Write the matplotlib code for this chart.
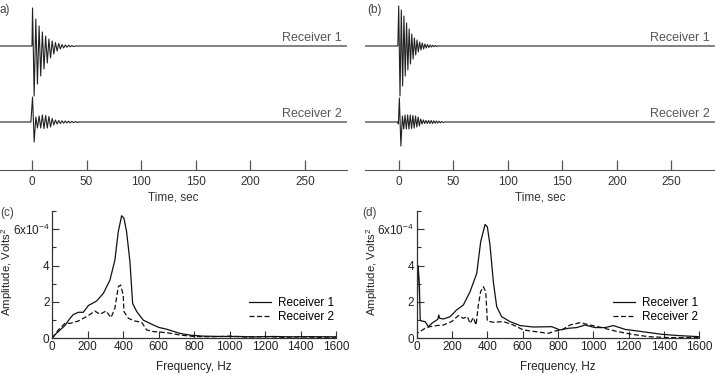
import matplotlib
matplotlib.use("Agg")
import matplotlib.pyplot as plt
import numpy as np

plt.rcParams['font.family'] = ['Liberation Sans', 'DejaVu Sans']
plt.rcParams['mathtext.fontset'] = 'custom'
plt.rcParams['mathtext.rm'] = 'Liberation Sans'
plt.rcParams['mathtext.it'] = 'Liberation Sans'

# ---- time traces (extremes, arbitrary units) ----
t_a1 = [-30, 0, 0.5, 2.0, 3.5, 5.0, 6.5, 8.0, 9.5, 11, 12.5, 14, 15.5, 17, 18.5, 20,
        21.5, 23, 24.5, 26, 27.5, 29, 30.5, 32, 33.5, 35, 36.5, 38, 40, 290]
y_a1 = [0, 0, 38, -50, 27, -38, 20, -30, 14, -23, 10, -17, 7, -12, 5, -8,
        3.5, -5, 2.5, -3, 1.5, -2, 1, -1.2, 0.8, -0.8, 0.5, -0.5, 0, 0]

t_a2 = [-30, -1, 0.5, 2.0, 3.5, 5, 6.5, 8, 9.5, 11, 12.5, 14, 15.5, 17, 18.5, 20,
        21.5, 23, 24.5, 26, 27.5, 29, 30.5, 32, 33.5, 35, 36.5, 38, 40, 41.5, 43, 290]
y_a2 = [0, 0, 25, -20, 5, -6, 6, -6, 7, -6.5, 6.5, -6, 5.5, -5, 3.5, -3,
        2, -2, 1.5, -1.5, 1.2, -1.2, 1, -1, 0.8, -0.8, 0.6, -0.6, 0.5, -0.5, 0, 0]

t_b1 = [-31, -0.8, 0, 1.2, 2.4, 3.6, 4.8, 6.0, 7.2, 8.4, 9.6, 10.8, 12, 13.2, 14.4,
        15.6, 16.8, 18, 19.2, 20.4, 21.6, 22.8, 24, 25.2, 26.4, 27.6, 28.8, 30,
        31.2, 32.4, 33.6, 34.8, 36, 290]
y_b1 = [0, 0, 40, -50, 36, -40, 30, -30, 23, -24, 17, -18, 12, -13, 8,
        -9, 6, -6, 4, -4, 3, -3, 2, -2, 1.5, -1.5, 1, -1,
        0.7, -0.7, 0.5, -0.5, 0, 0]

t_b2 = [-31, -1, -0.3, 0.6, 2.0, 3.4, 4.6, 5.8, 7.0, 8.2, 9.4, 10.6, 11.8, 13, 14.2,
        15.4, 16.6, 17.8, 19, 20.2, 21.4, 22.6, 23.8, 25, 26.2, 27.4, 28.6, 29.8,
        31, 32.2, 33.4, 34.6, 35.8, 37, 38.2, 39.4, 40.6, 42, 290]
y_b2 = [0, 0, -2, 24, -24, 6, -7, 7, -7, 7, -7, 7, -6.5, 6.5, -6,
        6, -5, 5, -4, 3, -2, 2, -1.5, 1.5, -1.5, 1.5, -1.5, 1.5,
        -1.5, 1.2, -1.2, 1, -1, 0.8, -0.8, 0.5, -0.5, 0, 0]

trace_gap = 76
time_ticks = [0, 50, 100, 150, 200, 250]

# ---- spectra (amplitude in 1e-4 Volts^2) ----
f_c1 = [0, 15, 43, 71, 100, 118, 147, 175, 203, 250, 288, 325, 353, 372, 391, 404,
        419, 438, 453, 476, 513, 570, 600, 645, 700, 720, 780, 850, 950, 1050,
        1150, 1250, 1350, 1450, 1600]
a_c1 = [0, 0.2, 0.45, 0.7, 1.1, 1.3, 1.43, 1.43, 1.8, 2.05, 2.47, 3.2, 4.3, 5.86, 6.74, 6.6,
        5.86, 4.2, 1.92, 1.47, 1.0, 0.73, 0.6, 0.5, 0.33, 0.27, 0.17, 0.12, 0.1, 0.1,
        0.08, 0.1, 0.08, 0.09, 0.08]
f_c2 = [0, 34, 71, 100, 147, 203, 240, 269, 303, 331, 353, 372, 385, 400, 404, 429,
        466, 504, 532, 570, 645, 720, 800, 900, 1000, 1100, 1200, 1300, 1400, 1500, 1600]
a_c2 = [0, 0.46, 0.82, 0.82, 0.95, 1.25, 1.5, 1.32, 1.5, 1.14, 1.65, 2.84, 2.93, 2.38, 1.47, 1.1,
        0.95, 0.88, 0.46, 0.37, 0.31, 0.18, 0.1, 0.08, 0.12, 0.06, 0.1, 0.05, 0.08, 0.05, 0.06]

f_d1 = [0, 8, 15, 20, 28, 47, 66, 85, 120, 125, 130, 151, 189, 226, 264, 302, 340, 362,
        387, 400, 415, 434, 453, 481, 528, 585, 660, 764, 811, 859, 906, 953, 1010,
        1067, 1114, 1180, 1274, 1387, 1482, 1595]
a_d1 = [0.3, 4.0, 3.0, 1.0, 0.95, 0.92, 0.64, 0.82, 1.05, 1.28, 1.1, 1.06, 1.19, 1.56, 1.83, 2.56, 3.57, 5.3,
        6.26, 6.13, 5.13, 3.1, 1.74, 1.19, 0.92, 0.7, 0.62, 0.64, 0.46, 0.55, 0.59, 0.73, 0.59,
        0.59, 0.7, 0.49, 0.37, 0.22, 0.15, 0.09]
f_d2 = [0, 5, 19, 47, 75, 113, 151, 198, 236, 264, 287, 302, 321, 336, 349, 362, 377,
        391, 400, 434, 491, 547, 604, 670, 745, 783, 821, 868, 925, 981, 1048, 1123,
        1218, 1312, 1425, 1595]
a_d2 = [0.1, 0.3, 0.37, 0.55, 0.64, 0.7, 0.73, 0.92, 1.25, 1.1, 1.19, 0.82, 1.14, 0.73, 1.83, 2.56, 2.84,
        2.56, 0.95, 0.88, 0.92, 0.73, 0.46, 0.37, 0.27, 0.4, 0.46, 0.73, 0.86, 0.73, 0.59, 0.4,
        0.22, 0.09, 0.04, 0.04]

freq_ticks = [0, 200, 400, 600, 800, 1000, 1200, 1400, 1600]
amp_ticks = [0, 2, 4, 6]
amp_labels = ['0', '2', '4', '6x10$^{-4}$']

fig = plt.figure(figsize=(7.15, 3.75), dpi=100)
W, H = 715.0, 375.0

def top_panel(x0, x1, xlim, t1, y1, t2, y2, label, lab_x):
    ax = fig.add_axes([x0 / W, 1 - 170 / H, (x1 - x0) / W, 170 / H])
    ax.plot(t1, y1, color='#222222', lw=0.8)
    ax.plot(t2, np.array(y2) - trace_gap, color='#222222', lw=0.8)
    ax.set_xlim(*xlim)
    ax.set_ylim(-124, 46)
    for s in ['top', 'left', 'right']:
        ax.spines[s].set_visible(False)
    ax.spines['bottom'].set_color('#555555')
    ax.set_yticks([])
    ax.set_xticks(time_ticks)
    ax.tick_params(axis='x', direction='in', length=7, width=0.9, color='#555555',
                   labelsize=8.5, labelcolor='#333333', pad=4)
    ax.set_xlabel('Time, sec', fontsize=8.5, color='#333333', labelpad=3)
    # names sit just above each trace's baseline
    ax.text(0.985, 0.74, 'Receiver 1', transform=ax.transAxes,
            ha='right', va='bottom', fontsize=9, color='#555555')
    ax.text(0.985, 0.295, 'Receiver 2', transform=ax.transAxes,
            ha='right', va='bottom', fontsize=9, color='#555555')
    fig.text(lab_x / W, 1 - 10 / H, label, ha='left', va='center', fontsize=8.5, color='#444444')
    return ax

top_panel(0, 347, (-29.3, 288.5), t_a1, y_a1, t_a2, y_a2, 'a)', 0)
top_panel(365, 715, (-30.9, 290), t_b1, y_b1, t_b2, y_b2, '(b)', 367)

def bottom_panel(x0, x1, f1, a1, f2, a2, label, lab_x, ylab_x):
    ax = fig.add_axes([x0 / W, 1 - 338.3 / H, (x1 - x0) / W, 127.3 / H])
    ax.plot(f1, a1, color='#111111', lw=0.9, label='Receiver 1')
    ax.plot(f2, a2, color='#111111', lw=0.9, ls=(0, (4, 2)), label='Receiver 2')
    ax.set_xlim(0, 1600)
    ax.set_ylim(0, 7)
    for s in ['top', 'right']:
        ax.spines[s].set_visible(False)
    for s in ['left', 'bottom']:
        ax.spines[s].set_color('#333333')
        ax.spines[s].set_linewidth(0.9)
    ax.set_xticks(freq_ticks)
    ax.set_yticks(amp_ticks)
    ax.set_yticklabels(amp_labels)
    ax.set_yticks([1, 3, 5, 7], minor=True)
    ax.tick_params(which='major', direction='in', length=5, width=0.8, color='#333333',
                   labelsize=8.5, labelcolor='#222222', pad=2)
    ax.tick_params(axis='y', which='major', labelsize=8.5, pad=2)
    ax.tick_params(which='minor', direction='in', length=3, width=0.8, color='#333333')
    ax.set_xlabel('Frequency, Hz', fontsize=8.5, color='#222222', labelpad=6)
    fig.text(ylab_x / W, 1 - 272 / H, 'Amplitude, Volts$^2$', rotation=90,
             ha='center', va='center', fontsize=8.2, color='#222222')
    fig.text(lab_x / W, 1 - 213 / H, label, ha='left', va='center', fontsize=8.5, color='#444444')
    ax.legend(loc='center left', bbox_to_anchor=(0.693, 0.22), frameon=False,
              fontsize=8.5, handlelength=1.9, handletextpad=0.6, labelspacing=0.15,
              borderpad=0, borderaxespad=0)
    return ax

bottom_panel(52.3, 336, f_c1, a_c1, f_c2, a_c2, '(c)', 0, 7.5)
bottom_panel(416.7, 699.3, f_d1, a_d1, f_d2, a_d2, '(d)', 362, 372)

fig.savefig('out.png', dpi=100)
